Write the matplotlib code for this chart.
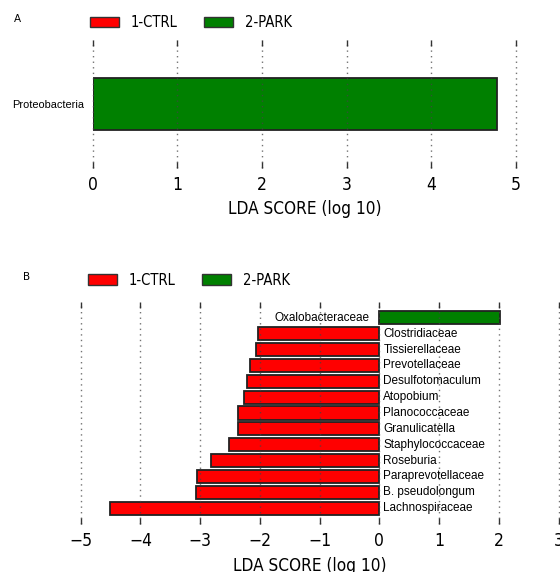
import matplotlib
matplotlib.use("Agg")
import matplotlib.pyplot as plt
from matplotlib import font_manager as fm
from matplotlib.patches import Patch

# ---------------- data ----------------
groups = ["1-CTRL", "2-PARK"]
group_colors = ["#ff0000", "#008000"]

a_taxa = ["Proteobacteria"]
a_scores = [4.78]
a_group = [1]
a_ticks = [0, 1, 2, 3, 4, 5]

b_taxa = ["Oxalobacteraceae", "Clostridiaceae", "Tissierellaceae", "Prevotellaceae",
          "Desulfotomaculum", "Atopobium", "Planococcaceae", "Granulicatella",
          "Staphylococcaceae", "Roseburia", "Paraprevotellaceae", "B. pseudolongum",
          "Lachnospiraceae"]
b_scores = [2.02, -2.03, -2.06, -2.17, -2.21, -2.27, -2.36, -2.37,
            -2.52, -2.81, -3.06, -3.07, -4.51]
b_group = [1, 0, 0, 0, 0, 0, 0, 0, 0, 0, 0, 0, 0]
b_ticks = [-5, -4, -3, -2, -1, 0, 1, 2, 3]

xlabel = "LDA SCORE (log 10)"

# ---------------- fonts ----------------
def find_font(names):
    for f in fm.fontManager.ttflist:
        base = f.fname.split("/")[-1]
        if base in names:
            return fm.FontProperties(fname=f.fname)
    return None

cond = find_font(["DejaVuSansCondensed.ttf", "LiberationSansNarrow-Regular.ttf"])
if cond is None:
    cond = fm.FontProperties(family="DejaVu Sans")

def cp(size):
    p = cond.copy()
    p.set_size(size)
    return p

label_font = fm.FontProperties(family="Liberation Sans")

W, H = 560, 572
fig = plt.figure(figsize=(W / 100, H / 100), dpi=100)

def fx(px):
    return px / W

def fy(py):
    return 1 - py / H

def style_axes(ax, ticks):
    for s in ax.spines.values():
        s.set_visible(False)
    ax.set_xticks(ticks)
    ax.tick_params(axis="x", which="both", direction="in", top=True, bottom=True,
                   length=4.5, width=1.0, color="#333333", pad=6)
    for lab in ax.get_xticklabels():
        lab.set_fontproperties(cp(12.5))
    ax.grid(axis="x", linestyle=(0, (1, 3)), color="#444444", linewidth=1.0, alpha=0.75)
    ax.set_axisbelow(False)
    for gl in ax.get_xgridlines():
        gl.set_clip_on(False)

def add_legend(ax, x_px, y_px):
    handles = [Patch(facecolor=c, edgecolor="#333333", linewidth=1.0) for c in group_colors]
    leg = fig.legend(handles, groups, loc="center left",
                     bbox_to_anchor=(fx(x_px), fy(y_px)), bbox_transform=fig.transFigure,
                     ncol=2, frameon=False, prop=cp(10.5), handlelength=2.0,
                     handleheight=0.7, handletextpad=0.8, columnspacing=1.8,
                     borderpad=0, borderaxespad=0)
    return leg

# ---------------- panel A ----------------
axA = fig.add_axes([fx(92.5), fy(168), fx(516) - fx(92.5), fy(40) - fy(168)])
ya = list(range(len(a_taxa)))
axA.barh(ya, a_scores, height=0.8, color=[group_colors[g] for g in a_group],
         edgecolor="#222222", linewidth=1.3, zorder=1)
axA.set_xlim(a_ticks[0], a_ticks[-1])
axA.set_ylim(-1, 1)
style_axes(axA, a_ticks)
axA.set_yticks(ya)
axA.set_yticklabels(a_taxa, fontproperties=label_font, fontsize=7.9)
axA.tick_params(axis="y", length=0, pad=6)
axA.set_xlabel(xlabel, fontproperties=cp(12.3), va="center")
axA.xaxis.set_label_coords(0.5, -0.32)
fig.text(fx(14), fy(19), "A", fontsize=7.5, family="DejaVu Sans", va="center", ha="left")
add_legend(axA, 90, 22.5)

# ---------------- panel B ----------------
axB = fig.add_axes([fx(80.7), fy(524), fx(558.5) - fx(80.7), fy(302) - fy(524)])
n = len(b_taxa)
yb = [n - 1 - i for i in range(n)]
axB.barh(yb, b_scores, height=0.82, color=[group_colors[g] for g in b_group],
         edgecolor="#222222", linewidth=1.3, zorder=1)
for y, v, name in zip(yb, b_scores, b_taxa):
    if v < 0:
        axB.annotate(name, (0, y), xytext=(4, 0), textcoords="offset pixels",
                     ha="left", va="center", fontproperties=label_font, fontsize=8.5)
    else:
        axB.annotate(name, (0, y), xytext=(-10, 0), textcoords="offset pixels",
                     ha="right", va="center", fontproperties=label_font, fontsize=8.5)
axB.set_xlim(b_ticks[0], b_ticks[-1])
axB.set_ylim(-1.0, n)
axB.set_yticks([])
style_axes(axB, b_ticks)
axB.set_xlabel(xlabel, fontproperties=cp(12.3), va="center")
axB.xaxis.set_label_coords(0.48, -0.19)
fig.text(fx(23), fy(277), "B", fontsize=7.5, family="DejaVu Sans", va="center", ha="left")
add_legend(axB, 88, 280)

fig.savefig("out.png", dpi=100)
